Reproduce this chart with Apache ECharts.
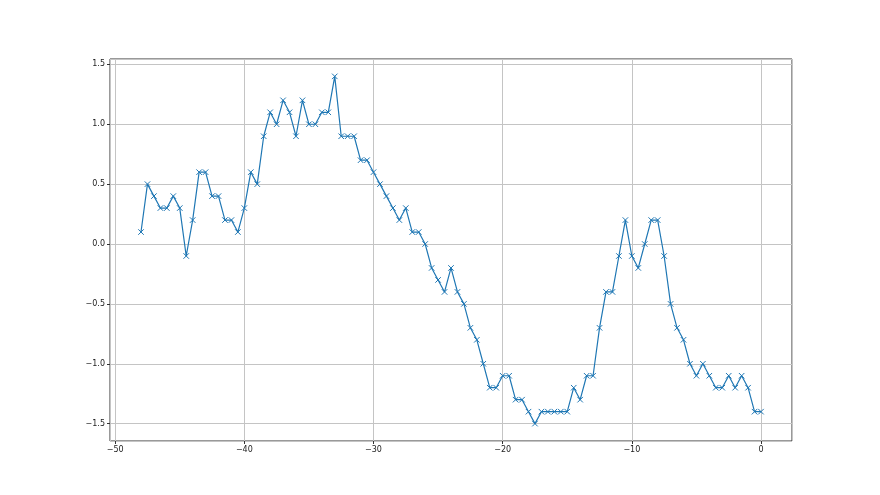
<!DOCTYPE html>
<html>
<head>
<meta charset="utf-8">
<script src="https://cdn.jsdelivr.net/npm/echarts@6/dist/echarts.min.js"></script>
<style>
  html, body { margin: 0; padding: 0; background: #fff; }
  #chart { width: 880px; height: 495px; }
</style>
</head>
<body>
<div id="chart"></div>
<script>
// x runs from -48 to 0 in steps of 0.5
var xValues = [
  -48, -47.5, -47, -46.5, -46, -45.5, -45, -44.5, -44, -43.5,
  -43, -42.5, -42, -41.5, -41, -40.5, -40, -39.5, -39, -38.5,
  -38, -37.5, -37, -36.5, -36, -35.5, -35, -34.5, -34, -33.5,
  -33, -32.5, -32, -31.5, -31, -30.5, -30, -29.5, -29, -28.5,
  -28, -27.5, -27, -26.5, -26, -25.5, -25, -24.5, -24, -23.5,
  -23, -22.5, -22, -21.5, -21, -20.5, -20, -19.5, -19, -18.5,
  -18, -17.5, -17, -16.5, -16, -15.5, -15, -14.5, -14, -13.5,
  -13, -12.5, -12, -11.5, -11, -10.5, -10, -9.5, -9, -8.5,
  -8, -7.5, -7, -6.5, -6, -5.5, -5, -4.5, -4, -3.5,
  -3, -2.5, -2, -1.5, -1, -0.5, 0
];
var yValues = [
  0.1, 0.5, 0.4, 0.3, 0.3, 0.4, 0.3, -0.1, 0.2, 0.6,
  0.6, 0.4, 0.4, 0.2, 0.2, 0.1, 0.3, 0.6, 0.5, 0.9,
  1.1, 1.0, 1.2, 1.1, 0.9, 1.2, 1.0, 1.0, 1.1, 1.1,
  1.4, 0.9, 0.9, 0.9, 0.7, 0.7, 0.6, 0.5, 0.4, 0.3,
  0.2, 0.3, 0.1, 0.1, 0.0, -0.2, -0.3, -0.4, -0.2, -0.4,
  -0.5, -0.7, -0.8, -1.0, -1.2, -1.2, -1.1, -1.1, -1.3, -1.3,
  -1.4, -1.5, -1.4, -1.4, -1.4, -1.4, -1.4, -1.2, -1.3, -1.1,
  -1.1, -0.7, -0.4, -0.4, -0.1, 0.2, -0.1, -0.2, 0.0, 0.2,
  0.2, -0.1, -0.5, -0.7, -0.8, -1.0, -1.1, -1.0, -1.1, -1.2,
  -1.2, -1.1, -1.2, -1.1, -1.2, -1.4, -1.4
];

var points = [];
for (var i = 0; i < xValues.length; i++) {
  points.push([xValues[i], yValues[i]]);
}

function minusSign(s) {
  return String(s).replace('-', '\u2212');
}

var chart = echarts.init(document.getElementById('chart'));

var option = {
  backgroundColor: '#fff',
  animation: false,
  grid: {
    left: 110,
    right: 88,
    top: 59,
    bottom: 54,
    show: true,
    borderColor: '#333',
    borderWidth: 1,
    backgroundColor: 'transparent'
  },
  xAxis: {
    type: 'value',
    min: -50.4,
    max: 2.4,
    splitNumber: 5,
    axisLine: { show: false, onZero: false },
    axisTick: { show: true, inside: false, length: 3, lineStyle: { color: '#333' } },
    axisLabel: {
      showMinLabel: false,
      showMaxLabel: false,
      color: '#222',
      fontFamily: 'DejaVu Sans',
      fontSize: 8,
      margin: 5,
      formatter: function (v) { return minusSign(v); }
    },
    splitLine: { show: true, lineStyle: { color: '#c4c4c4', width: 1 } }
  },
  yAxis: {
    type: 'value',
    min: -1.645,
    max: 1.545,
    splitNumber: 6,
    axisLine: { show: false, onZero: false },
    axisTick: { show: true, inside: false, length: 3, lineStyle: { color: '#333' } },
    axisLabel: {
      showMinLabel: false,
      showMaxLabel: false,
      color: '#222',
      fontFamily: 'DejaVu Sans',
      fontSize: 8,
      margin: 5,
      formatter: function (v) { return minusSign(v.toFixed(1)); }
    },
    splitLine: { show: true, lineStyle: { color: '#c4c4c4', width: 1 } }
  },
  series: [
    {
      type: 'line',
      data: points,
      symbol: 'path://M0,0L10,10M0,10L10,0',
      symbolSize: 5.5,
      showAllSymbol: true,
      lineStyle: { color: '#1f77b4', width: 1.2 },
      itemStyle: { color: '#1f77b4', borderColor: '#1f77b4', borderWidth: 1 }
    }
  ]
};

chart.setOption(option);
</script>
</body>
</html>
